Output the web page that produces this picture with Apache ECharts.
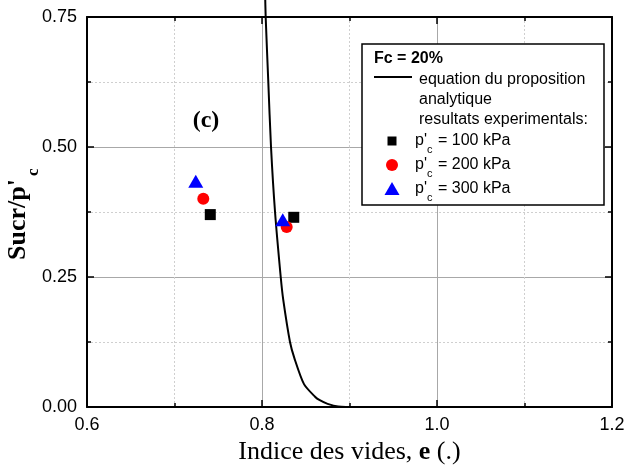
<!DOCTYPE html>
<html><head><meta charset="utf-8">
<script src="https://cdn.jsdelivr.net/npm/echarts@6/dist/echarts.min.js"></script>
<style>html,body{margin:0;padding:0;background:#fff}#c{width:628px;height:470px}</style>
</head><body><div id="c"></div>
<script>
// analytical curve (void ratio e, Sucr/p'c)
const curveE = [0.8035, 0.8042, 0.8072, 0.8103, 0.8149, 0.8214, 0.8243, 0.832, 0.837, 0.848, 0.8606, 0.866, 0.875, 0.887, 0.91];
const curveS = [0.80, 0.75, 0.625, 0.50, 0.375, 0.25, 0.206, 0.125, 0.094, 0.044, 0.0198, 0.013, 0.006, 0.001, 0.0];
// experimental results
const e100 = [0.7409, 0.8363];
const s100 = [0.370, 0.3648];
const e200 = [0.7329, 0.8282];
const s200 = [0.4006, 0.346];
const e300 = [0.7243, 0.8237];
const s300 = [0.4342, 0.3602];
// axis ranges / labels
const xRange = [0.6, 1.2];
const xStep = 0.2;
const yRange = [0, 0.75];
const yStep = 0.25;
const legendTitle = 'Fc = 20%';
const legendLine = ['equation du proposition', 'analytique'];
const legendHeader = 'resultats experimentals:';
const pressures = ['100', '200', '300'];

const zip = (a, b) => a.map((v, i) => [v, b[i]]);
const sans = "'Liberation Sans', Arial, sans-serif";
const serif = "'Liberation Serif', 'Times New Roman', serif";

const chart = echarts.init(document.getElementById('c'), null, {renderer: 'canvas'});

const baseX = {
  type: 'value', min: xRange[0], max: xRange[1], interval: xStep,
  axisLine: {show: true, onZero: false, lineStyle: {color: '#000', width: 2}},
  axisTick: {show: true, inside: true, length: 7, lineStyle: {color: '#000', width: 1.5}},
  minorTick: {show: true, splitNumber: 2, length: 4, lineStyle: {color: '#000', width: 1.5}}
};
const baseY = {
  type: 'value', min: yRange[0], max: yRange[1], interval: yStep,
  axisLine: {show: true, onZero: false, lineStyle: {color: '#000', width: 2}},
  axisTick: {show: true, inside: true, length: 7, lineStyle: {color: '#000', width: 1.5}},
  minorTick: {show: true, splitNumber: 2, length: 4, lineStyle: {color: '#000', width: 1.5}}
};

const graphics = [];
// y axis title with subscript
graphics.push({
  type: 'group', x: 18, y: 260, rotation: Math.PI / 2, z: 100,
  children: [
    {type: 'text', x: 0, y: 0, style: {text: "Sucr/p'", font: 'bold 26px ' + serif, fill: '#000', textAlign: 'left', textVerticalAlign: 'middle'}},
    {type: 'text', x: 84, y: 16, style: {text: 'c', font: 'bold 17px ' + serif, fill: '#000', textAlign: 'left', textVerticalAlign: 'middle'}}
  ]
});
// panel label
graphics.push({type: 'text', x: 206, y: 121, z: 100, style: {text: '(c)', font: 'bold 24px ' + serif, fill: '#000', textAlign: 'center', textVerticalAlign: 'middle'}});
// legend box
graphics.push({type: 'rect', z: 100, shape: {x: 362, y: 44, width: 242, height: 161}, style: {fill: '#fff', stroke: '#000', lineWidth: 1.5}});
graphics.push({type: 'text', x: 374, y: 59, z: 101, style: {text: legendTitle, font: 'bold 16px ' + sans, fill: '#000', textVerticalAlign: 'middle'}});
graphics.push({type: 'line', z: 101, shape: {x1: 374, y1: 77, x2: 412, y2: 77}, style: {stroke: '#000', lineWidth: 2}});
graphics.push({type: 'text', x: 419, y: 80, z: 101, style: {text: legendLine[0], font: '16px ' + sans, fill: '#000', textVerticalAlign: 'middle'}});
graphics.push({type: 'text', x: 419, y: 100, z: 101, style: {text: legendLine[1], font: '16px ' + sans, fill: '#000', textVerticalAlign: 'middle'}});
graphics.push({type: 'text', x: 419, y: 120, z: 101, style: {text: legendHeader, font: '16px ' + sans, fill: '#000', textVerticalAlign: 'middle'}});
const rowsY = [141, 165, 189];
graphics.push({type: 'rect', z: 101, shape: {x: 387.5, y: rowsY[0] - 4.5, width: 9, height: 9}, style: {fill: '#000'}});
graphics.push({type: 'circle', z: 101, shape: {cx: 392, cy: rowsY[1], r: 6}, style: {fill: '#ff0000'}});
graphics.push({type: 'polygon', z: 101, shape: {points: [[392, rowsY[2] - 7], [399.5, rowsY[2] + 6], [384.5, rowsY[2] + 6]]}, style: {fill: '#0000ff'}});
pressures.forEach((p, i) => {
  const y = rowsY[i];
  graphics.push({type: 'text', x: 415, y: y, z: 101, style: {text: "p'", font: '16px ' + sans, fill: '#000', textVerticalAlign: 'middle'}});
  graphics.push({type: 'text', x: 427, y: y + 9, z: 101, style: {text: 'c', font: '11px ' + sans, fill: '#000', textVerticalAlign: 'middle'}});
  graphics.push({type: 'text', x: 438, y: y, z: 101, style: {text: '= ' + p + ' kPa', font: '16px ' + sans, fill: '#000', textVerticalAlign: 'middle'}});
});

chart.setOption({
  animation: false,
  backgroundColor: '#fff',
  grid: {left: 87, right: 16, top: 17, bottom: 63, containLabel: false},
  xAxis: [
    Object.assign({}, baseX, {
      position: 'bottom',
      name: 'Indice des vides, {b|e} (.)',
      nameLocation: 'middle', nameGap: 30,
      nameTextStyle: {fontFamily: serif, fontSize: 26, color: '#000',
        rich: {b: {fontFamily: serif, fontSize: 26, fontWeight: 'bold', color: '#000'}}},
      axisLabel: {show: true, color: '#000', fontFamily: sans, fontSize: 18, margin: 9,
        formatter: v => v.toFixed(1)},
      splitLine: {show: true, lineStyle: {color: '#a8a8a8', width: 1}},
      minorSplitLine: {show: true, lineStyle: {color: '#cfcfcf', width: 1, type: [2, 2]}}
    }),
    Object.assign({}, baseX, {position: 'top', axisLabel: {show: false}, splitLine: {show: false}})
  ],
  yAxis: [
    Object.assign({}, baseY, {
      position: 'left',
      axisLabel: {show: true, color: '#000', fontFamily: sans, fontSize: 18, margin: 10,
        formatter: v => v.toFixed(2)},
      splitLine: {show: true, lineStyle: {color: '#a8a8a8', width: 1}},
      minorSplitLine: {show: true, lineStyle: {color: '#cfcfcf', width: 1, type: [2, 2]}}
    }),
    Object.assign({}, baseY, {position: 'right', axisLabel: {show: false}, splitLine: {show: false}})
  ],
  series: [
    {type: 'line', name: 'equation', data: zip(curveE, curveS), showSymbol: false, symbol: 'none',
      smooth: 0.25, clip: false, z: 2,
      lineStyle: {color: '#000', width: 2}},
    {type: 'scatter', name: '100', data: zip(e100, s100), symbol: 'rect', symbolSize: 11, z: 3,
      itemStyle: {color: '#000', opacity: 1}},
    {type: 'scatter', name: '200', data: zip(e200, s200), symbol: 'circle', symbolSize: 12, z: 4,
      itemStyle: {color: '#ff0000', opacity: 1}},
    {type: 'scatter', name: '300', data: zip(e300, s300), symbol: 'triangle', symbolSize: [15, 13], z: 5,
      itemStyle: {color: '#0000ff', opacity: 1}}
  ],
  graphic: graphics
});
</script>
</body></html>
